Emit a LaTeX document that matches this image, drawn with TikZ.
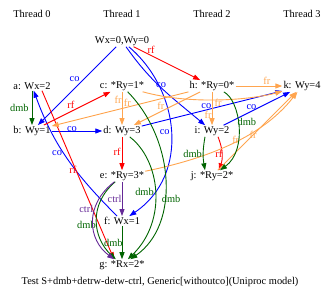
\documentclass[tikz,border=0pt]{standalone}
\usepackage{fontspec}
\setmainfont{Liberation Serif}
\usetikzlibrary{arrows.meta,positioning}
\definecolor{rfred}{RGB}{255,0,0}
\definecolor{coblue}{RGB}{0,0,255}
\definecolor{frorange}{RGB}{255,165,79}
\definecolor{dmbgreen}{RGB}{0,100,0}
\definecolor{ctrlpurple}{RGB}{100,40,150}

\begin{document}
\begin{tikzpicture}[x=1pt, y=-1pt, >={Triangle[length=7pt,width=5pt]},
	evnode/.style={draw=none, inner sep=1pt, font=\fontsize{10.4}{12}\selectfont},
	relLine/.style={line width=0.9pt, ->},
	rfLine/.style={relLine, color=rfred},
	coLine/.style={relLine, color=coblue},
	frLine/.style={relLine, color=frorange},
	dmbLine/.style={relLine, color=dmbgreen},
	ctrlLine/.style={relLine, color=ctrlpurple},
	lbl/.style={inner sep=1pt, font=\fontsize{10.4}{12}\selectfont}
	]
	\useasboundingbox (0,0) rectangle (336,304);
	
	\node[evnode] (th0) at (32,14) {Thread 0};
	\node[evnode] (th1) at (122,14) {Thread 1};
	\node[evnode] (th2) at (212,14) {Thread 2};
	\node[evnode] (th3) at (302,14) {Thread 3};
	\node[evnode] (init) at (122,41) {Wx=0,Wy=0};
	\node[evnode] (a) at (32,86) {a: Wx=2};
	\node[evnode] (b) at (32,131) {b: Wy=1};
	\node[evnode] (c) at (122,86) {c: *Ry=1*};
	\node[evnode] (d) at (122,131) {d: Wy=3};
	\node[evnode] (e) at (122,176) {e: *Ry=3*};
	\node[evnode] (f) at (122,221) {f: Wx=1};
	\node[evnode] (g) at (122,265) {g: *Rx=2*};
	\node[evnode] (h) at (212,86) {h: *Ry=0*};
	\node[evnode] (i) at (212,131) {i: Wy=2};
	\node[evnode] (j) at (212,176) {j: *Ry=2*};
	\node[evnode] (k) at (302,86) {k: Wy=4};
	\node[evnode] (caption) at (160,282) {Test S+dmb+detrw-detw-ctrl, Generic[withoutco](Uniproc model)};
	
	% co
	\draw[coLine] (init) -- node[lbl, pos=0.45, left, yshift=3pt]{co} (b);
	\draw[coLine] (b) -- node[lbl, pos=0.4, above, yshift=-2pt]{co} (d);
	\draw[coLine] (init) to[out=-55, in=140] node[lbl, pos=0.45, right, xshift=-4pt]{co} (i);
	\draw[coLine] (init) .. controls (180,90) and (190,175) .. node[lbl, pos=0.5, left]{co} (f);
	\draw[coLine] (f) to[out=135, in=-70] node[lbl, pos=0.55, left]{co} (a);
	\draw[coLine] (d) -- node[lbl, pos=0.46, above]{co} (k);
	\draw[coLine] (i) -- node[lbl, pos=0.42, above]{co} (k);
	
	% rf
	\draw[rfLine] (init) -- node[lbl, pos=0.25, above right, xshift=-4pt]{rf} (h);
	\draw[rfLine] (b) -- node[lbl, pos=0.45, above left, xshift=2pt]{rf} (c);
	\draw[rfLine] ([xshift=10pt]a.south) -- node[lbl, pos=0.47, left, xshift=2pt]{rf} ([xshift=-8pt]g.north);
	\draw[rfLine] (d) -- node[lbl, pos=0.45, left]{rf} (e);
	\draw[rfLine] ([xshift=6pt]i.south) to[bend left=20] node[lbl, pos=0.5, left, xshift=2pt]{rf} ([xshift=7pt]j.north);
	
	% fr
	\draw[frLine] (c) -- node[lbl, pos=0.25, left, xshift=1pt]{fr} (d);
	\draw[frLine] (h) -- node[lbl, pos=0.446, above, yshift=-1pt]{fr} (b);
	\draw[frLine] (h) -- node[lbl, pos=0.58, above left, xshift=4pt]{fr} (d);
	\draw[frLine] (h) -- node[lbl, pos=0.69, left, xshift=1pt]{fr} (i);
	\draw[frLine] (h) -- node[lbl, pos=0.67, above]{fr} (k);
	\draw[frLine] (c) .. controls (190,105) and (250,100) .. node[lbl, pos=0.5, yshift=-3pt]{fr} (k);
	\draw[frLine] (e) .. controls (200,160) and (260,140) .. node[lbl, pos=0.55, yshift=2pt]{fr} (k);
	\draw[frLine] (j) -- node[lbl, pos=0.45]{fr} (k);
	
	% dmb
	\draw[dmbLine] (a) -- node[lbl, left, xshift=-2pt]{dmb} (b);
	\draw[dmbLine] (c) .. controls (175,140) and (180,225) .. node[lbl, pos=0.6, right, xshift=-4pt]{dmb} (g);
	\draw[dmbLine] (d) .. controls (160,160) and (168,220) .. node[lbl, pos=0.5, left]{dmb} (g);
	\draw[dmbLine] (h) .. controls (240,100) and (248,150) .. node[lbl, pos=0.45, right, xshift=-2pt]{dmb} (j);
	\draw[dmbLine] ([xshift=-7pt]i.south) to[bend right=10] node[lbl, left]{dmb} ([xshift=-7pt]j.north);
	\draw[dmbLine] (f) -- node[lbl, left, xshift=2pt]{dmb} (g);
	\draw[dmbLine] (e) .. controls (88,205) and (93,238) .. node[lbl, pos=0.55, left]{dmb} (g);
	
	% ctrl
	\draw[ctrlLine] (e) -- node[lbl, left, xshift=1pt]{ctrl} (f);
	\draw[ctrlLine] (e) .. controls (84,205) and (88,240) .. node[lbl, pos=0.35, left]{ctrl} (g);
\end{tikzpicture}
\end{document}
